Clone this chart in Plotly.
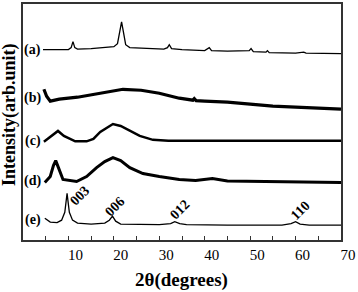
import plotly.graph_objects as go

# 2theta (degrees) and stacked intensity (arb. units, offset per curve)
a_x = [4.4, 8, 10, 10.6, 11.0, 11.4, 12, 15, 18, 20, 20.8, 21.3, 21.7, 22.1, 22.6, 23.5, 27, 31, 31.8, 32.2, 32.7, 35, 40, 40.6, 41.0, 41.5, 45, 49.8, 50.2, 50.7, 53.5, 53.8, 54.2, 60, 61.8, 62.3, 70]
a_y = [192, 192, 192, 194, 200, 194, 192.5, 193, 194, 195, 198, 210, 220, 210, 197, 194, 193, 192.5, 194, 197, 193, 192, 191, 192.5, 194, 191, 190.5, 191, 193, 190, 189.5, 191, 189, 188.5, 189.5, 188.5, 188]

b_x = [4.6, 5.2, 6, 8, 12, 16, 19, 22, 26, 30, 34.4, 37.4, 37.7, 38.1, 40, 45, 50, 55, 60, 65, 70]
b_y = [152, 145, 140, 142, 144, 147, 150, 152, 151, 148, 143, 141, 142.5, 140.5, 140, 139, 137, 135, 134, 133, 132]

c_x = [4.6, 6, 7.7, 9, 10.3, 11.5, 14, 15.5, 17, 19.8, 21.5, 23.5, 25.7, 28.6, 32, 40, 50, 60, 70]
c_y = [99, 104, 110, 105, 102, 99.5, 99.5, 102, 109, 117, 115, 110, 105, 101, 100, 100, 100, 100, 100]

d_x = [4.8, 6, 6.7, 7.2, 7.8, 8.8, 11.8, 14, 16.2, 18, 19.8, 21.5, 23.5, 26.4, 30, 34.4, 38, 41.7, 45, 55, 70]
d_y = [58, 64, 75, 80, 73, 61, 59, 64, 73, 79, 83, 80, 73, 67, 64, 61, 60, 62, 59.5, 59, 58]

e_x = [4.8, 6, 7.5, 8.5, 9.2, 9.7, 10.2, 10.9, 12, 15, 18, 19, 19.7, 20.4, 21.5, 25, 30, 32.5, 33.4, 34.5, 36, 45, 57, 59, 60, 61, 63, 70]
e_y = [22, 18, 17.5, 20, 28, 47, 28, 20, 17, 16, 17, 20, 24, 19, 16, 15.5, 15.5, 16.5, 18.5, 16.5, 15.5, 15, 15, 16.5, 18.5, 16, 15, 15]

curve_labels = ["(a)", "(b)", "(c)", "(d)", "(e)"]
label_y = [192, 143, 100, 60, 20]
peak_labels = ["003", "006", "012", "110"]
peak_lx = [12.5, 20.2, 34.5, 61.0]
peak_ly = [45, 34, 31, 30]
x_ticks = [10, 20, 30, 40, 50, 60, 70]

FONT = "Liberation Serif"
fig = go.Figure()
for xs, ys, w in [(a_x, a_y, 1.3), (b_x, b_y, 3.2), (c_x, c_y, 2.5), (d_x, d_y, 3.0), (e_x, e_y, 1.3)]:
    fig.add_trace(go.Scatter(x=xs, y=ys, mode="lines", line=dict(color="black", width=w),
                             showlegend=False, hoverinfo="skip"))

for t, yy in zip(curve_labels, label_y):
    fig.add_annotation(x=2.2, y=yy, text="<b>%s</b>" % t, showarrow=False,
                       font=dict(family=FONT, size=14, color="black"), xanchor="center", yanchor="middle")
for t, xx, yy in zip(peak_labels, peak_lx, peak_ly):
    fig.add_annotation(x=xx, y=yy, text="<b>%s</b>" % t, showarrow=False, textangle=-45,
                       font=dict(family=FONT, size=14, color="black"), xanchor="center", yanchor="middle")

fig.add_annotation(xref="paper", yref="paper", x=0.497, y=0, yshift=-40, text="<b>2θ(degrees)</b>",
                   showarrow=False, font=dict(family=FONT, size=19, color="black"),
                   xanchor="center", yanchor="middle")
fig.add_annotation(xref="paper", yref="paper", x=0, xshift=-13, y=0.53, text="<b>Intensity(arb.unit)</b>",
                   showarrow=False, textangle=-90, font=dict(family=FONT, size=18, color="black"),
                   xanchor="center", yanchor="middle")

fig.update_xaxes(range=[0, 70], tickvals=x_ticks, ticktext=[str(v) for v in x_ticks],
                 ticks="inside", ticklen=4, tickwidth=1, tickcolor="#333",
                 minor=dict(dtick=5, tick0=0, ticks="inside", ticklen=4, tickcolor="#333"),
                 showline=True, linecolor="#333", linewidth=1.5, mirror=True,
                 showgrid=False, zeroline=False, ticklabelshift=7,
                 tickfont=dict(family=FONT, size=15, color="black"))
fig.update_yaxes(range=[0, 238], showticklabels=False, ticks="", showline=True, linecolor="#333",
                 linewidth=1.5, mirror=True, showgrid=False, zeroline=False)
fig.update_layout(width=358, height=292, margin=dict(l=23, r=17, t=2, b=52),
                  plot_bgcolor="white", paper_bgcolor="white")
fig.write_html("out.html", config={"displayModeBar": False},
               post_script="document.body.style.margin='0';document.body.style.overflow='hidden';")
